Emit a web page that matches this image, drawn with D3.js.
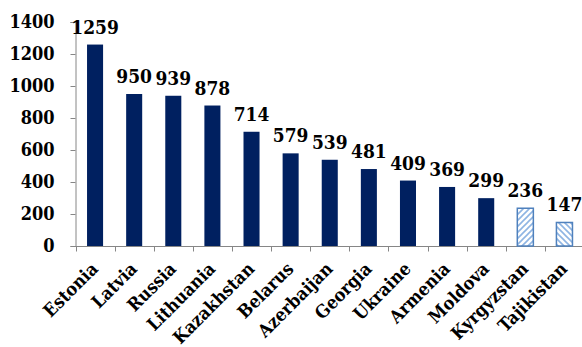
<!DOCTYPE html>
<html><head><meta charset="utf-8">
<script src="https://cdn.jsdelivr.net/npm/d3@7"></script>
<style>body{margin:0;background:#fff}</style>
</head><body>
<svg id="c" width="582" height="347"></svg>
<script>
const categories = ["Estonia","Latvia","Russia","Lithuania","Kazakhstan","Belarus","Azerbaijan","Georgia","Ukraine","Armenia","Moldova","Kyrgyzstan","Tajikistan"];
const values = [1259,950,939,878,714,579,539,481,409,369,299,236,147];
const hatched = ["Kyrgyzstan","Tajikistan"];
const yTicks = [0,200,400,600,800,1000,1200,1400];

const svg = d3.select("#c");
const font = "'DejaVu Serif Condensed', 'DejaVu Serif', serif";
const x = d3.scaleBand().domain(categories).range([75.5, 584]).paddingInner(0.59).paddingOuter(0.295);
const y = d3.scaleLinear().domain([0,1400]).range([246, 22]);

const defs = svg.append("defs");
function pat(id, dir){
  const p = defs.append("pattern").attr("id",id).attr("patternUnits","userSpaceOnUse").attr("width",6).attr("height",6);
  p.append("rect").attr("width",6).attr("height",6).attr("fill","#fff");
  if(dir>0){
    p.append("path").attr("d","M-1,7 L7,-1 M-4,4 L4,-4 M2,10 L10,2").attr("stroke","#8eb4e3").attr("stroke-width",1.6);
  } else {
    p.append("path").attr("d","M-1,-1 L7,7 M-4,2 L4,10 M2,-4 L10,4").attr("stroke","#8eb4e3").attr("stroke-width",1.6);
  }
}
pat("h1",1); pat("h2",-1);

// y axis
const ya = svg.append("g").attr("transform","translate(75.5,0)")
  .call(d3.axisLeft(y).tickValues(yTicks).tickSize(5).tickPadding(16).tickFormat(d3.format("d")));
ya.select(".domain").attr("stroke","#868686");
ya.selectAll(".tick line").attr("stroke","#868686");
ya.selectAll("text").attr("font-family",font).attr("font-weight","bold").attr("font-size",18).attr("fill","#000");

// x axis line
const xa = svg.append("g").attr("transform","translate(0,246.5)");
xa.append("line").attr("x1",75.5).attr("x2",584).attr("stroke","#868686");
const step = x.step();
const bounds = d3.range(categories.length+1).map(i=>75.5+i*step);
xa.selectAll("line.t").data(bounds).join("line").attr("class","t")
  .attr("x1",d=>Math.round(d)+0.5).attr("x2",d=>Math.round(d)+0.5).attr("y1",0).attr("y2",5).attr("stroke","#868686");

// bars
svg.selectAll("rect.bar").data(categories).join("rect").attr("class","bar")
  .attr("x",d=>x(d)).attr("width",x.bandwidth())
  .attr("y",(d,i)=>y(values[i])).attr("height",(d,i)=>y(0)-y(values[i]))
  .attr("fill",(d)=>hatched.includes(d)?(d==="Kyrgyzstan"?"url(#h1)":"url(#h2)"):"#002060")
  .attr("stroke",d=>hatched.includes(d)?"#4f81bd":"none").attr("stroke-width",1.5);

// value labels
svg.selectAll("text.val").data(categories).join("text").attr("class","val")
  .attr("x",d=>x(d)+x.bandwidth()/2).attr("y",(d,i)=>y(values[i])-11)
  .attr("text-anchor","middle").attr("font-family",font).attr("font-weight","bold").attr("font-size",19)
  .text((d,i)=>values[i]);

// category labels
svg.selectAll("text.cat").data(categories).join("text").attr("class","cat")
  .attr("transform",d=>`translate(${x(d)+x.bandwidth()/2+4},${270}) rotate(-45)`)
  .attr("text-anchor","end").attr("font-family",font).attr("font-weight","bold").attr("font-size",18)
  .text(d=>d);
</script>
</body></html>
